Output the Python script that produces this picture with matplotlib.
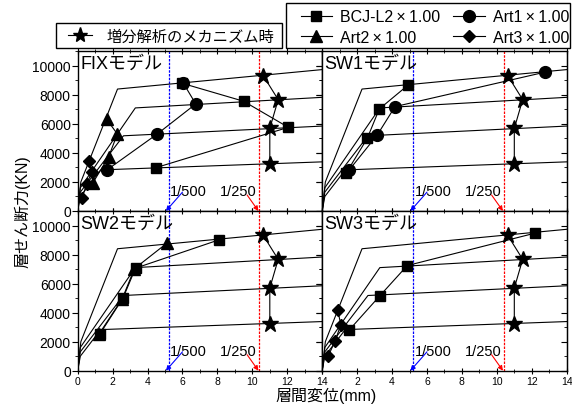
import matplotlib
matplotlib.use('Agg')
import matplotlib.pyplot as plt
from matplotlib.lines import Line2D
from matplotlib.patches import Rectangle
from matplotlib.ticker import MultipleLocator

plt.rcParams['font.family'] = ['Liberation Sans', 'Noto Sans CJK JP']

# skeleton curves, storeys 1F..4F: origin, crack, yield, end of plot
skel_x = [[0, 0.18, 2.28, 14], [0, 0.15, 3.30, 14], [0, 0.15, 2.62, 14], [0, 0.15, 1.32, 14]]
skel_y = [[0, 2000, 8400, 9740], [0, 1600, 7100, 7830], [0, 1300, 5180, 5850], [0, 1000, 2830, 3385]]

# mechanism points from pushover (same in every panel)
star_x = [10.62, 11.48, 11.00, 11.00]
star_y = [9330, 7670, 5694, 3227]

titles = ['FIXモデル', 'SW1モデル', 'SW2モデル', 'SW3モデル']

fix_bcj_x = [6.00, 9.50, 12.06, 4.49]
fix_bcj_y = [8790, 7560, 5763, 2990]
fix_art1_x = [6.04, 6.76, 4.55, 1.70]
fix_art1_y = [8825, 7374, 5300, 2850]
fix_art2_x = [1.65, 2.27, 1.77, 0.85]
fix_art2_y = [6337, 5300, 3730, 1900]
fix_art3_x = [0.66, 0.80, 0.51, 0.25]
fix_art3_y = [3430, 2654, 1845, 900]

sw1_bcj_x = [4.93, 3.27, 2.58, 1.36]
sw1_bcj_y = [8687, 7028, 5003, 2585]
sw1_art1_x = [12.76, 4.17, 3.15, 1.55]
sw1_art1_y = [9565, 7190, 5231, 2834]

sw2_bcj_x = [8.09, 3.31, 2.59, 1.27]
sw2_bcj_y = [9014, 7062, 4993, 2531]
sw2_art2_x = [5.11, 3.25, 2.55, 1.22]
sw2_art2_y = [8786, 7030, 4960, 2520]

sw3_bcj_x = [12.19, 4.87, 3.31, 1.55]
sw3_bcj_y = [9476, 7241, 5172, 2807]
sw3_art3_x = [0.88, 1.07, 0.73, 0.34]
sw3_art3_y = [4186, 3172, 2028, 993]

drift_500 = 5.2
drift_250 = 10.4

markers = {'BCJ': ('s', 7.5), 'Art1': ('o', 8.5), 'Art2': ('^', 8.5), 'Art3': ('D', 6.5)}

panel_series = [
    [('BCJ', fix_bcj_x, fix_bcj_y), ('Art1', fix_art1_x, fix_art1_y),
     ('Art2', fix_art2_x, fix_art2_y), ('Art3', fix_art3_x, fix_art3_y)],
    [('BCJ', sw1_bcj_x, sw1_bcj_y), ('Art1', sw1_art1_x, sw1_art1_y)],
    [('Art2', sw2_art2_x, sw2_art2_y), ('BCJ', sw2_bcj_x, sw2_bcj_y)],
    [('BCJ', sw3_bcj_x, sw3_bcj_y), ('Art3', sw3_art3_x, sw3_art3_y)],
]

fig = plt.figure(figsize=(5.72, 4.06), dpi=100)
W, H = 572.0, 406.0
L, AW = 77.7 / W, 244.5 / W
B, AH = 34.3 / H, 159.7 / H
pos = [[L, B + AH], [L + AW, B + AH], [L, B], [L + AW, B]]

for i, ax_pos in enumerate(pos):
    ax = fig.add_axes([ax_pos[0], ax_pos[1], AW, AH])
    ax.set_xlim(0, 14)
    ax.set_ylim(0, 11000)

    for sx, sy in zip(skel_x, skel_y):
        ax.plot(sx, sy, color='k', lw=0.8, zorder=2)

    ax.axvline(drift_500, color='blue', lw=0.9, ls=(0, (2, 1)), zorder=1.5)
    ax.axvline(drift_250, color='red', lw=0.9, ls=(0, (2, 1)), zorder=1.5)

    for name, xs, ys in panel_series[i]:
        m, ms = markers[name]
        ax.plot(xs, ys, color='k', lw=0.8, marker=m, ms=ms, zorder=3)

    ax.plot(star_x, star_y, color='k', lw=0.8, marker='*', ms=12, zorder=4)

    ax.text(0.01, 0.925, titles[i], transform=ax.transAxes, fontsize=13, va='center')

    ax.text(5.3, 1350, '1/500', fontsize=10.5, va='center')
    ax.text(8.15, 1350, '1/250', fontsize=10.5, va='center')
    ax.annotate('', xy=(5.05, 0), xytext=(6.0, 1300), annotation_clip=False,
                arrowprops=dict(arrowstyle='-|>', color='blue', lw=0.8,
                                mutation_scale=7, shrinkA=0, shrinkB=0))
    ax.annotate('', xy=(10.35, 0), xytext=(9.7, 1100), annotation_clip=False,
                arrowprops=dict(arrowstyle='-|>', color='red', lw=0.8,
                                mutation_scale=7, shrinkA=0, shrinkB=0))

    ax.xaxis.set_major_locator(MultipleLocator(2))
    ax.xaxis.set_minor_locator(MultipleLocator(1))
    ax.yaxis.set_major_locator(MultipleLocator(2000))
    ax.yaxis.set_minor_locator(MultipleLocator(1000))
    ax.tick_params(axis='x', which='both', direction='inout', top=True, labelsize=7.5, pad=2)
    ax.tick_params(axis='x', which='major', length=4)
    ax.tick_params(axis='x', which='minor', length=3)
    ax.tick_params(axis='y', which='both', direction='out', labelsize=10, pad=1)
    ax.tick_params(axis='y', which='major', length=4)
    ax.tick_params(axis='y', which='minor', length=2.5)
    sec = ax.secondary_yaxis('right')
    sec.yaxis.set_major_locator(MultipleLocator(2000))
    sec.yaxis.set_minor_locator(MultipleLocator(1000))
    sec.tick_params(which='both', direction='in', labelright=False)
    sec.tick_params(which='major', length=4)
    sec.tick_params(which='minor', length=2.5)
    for sp in ax.spines.values():
        sp.set_linewidth(1.0)

    if i < 2:
        ax.tick_params(axis='x', labelbottom=False)
    if i % 2 == 1:
        ax.tick_params(axis='y', labelleft=False)
    if i == 3:
        ax.set_xticks(range(0, 15, 2))
        ax.set_xticklabels([''] + [str(v) for v in range(2, 15, 2)])

fig.text(326 / W, 1 - 396 / H, '層間変位(mm)', ha='center', va='center', fontsize=11.5)
fig.text(22 / W, 1 - 212 / H, '層せん断力(KN)', ha='center', va='center',
         rotation=90, fontsize=11.5)


def px_box(x0, y0, x1, y1):
    # rectangle given in image pixels (y downward) -> figure fraction
    return Rectangle((x0 / W, 1 - y1 / H), (x1 - x0) / W, (y1 - y0) / H,
                     transform=fig.transFigure, fill=False, ec='k', lw=1.0)


fig.patches.append(px_box(285.9, 4, 570, 48.5))
fig.patches.append(px_box(55.7, 24, 282.2, 48.5))

handles = [Line2D([], [], color='k', lw=0.8, marker=markers[k][0], ms=markers[k][1])
           for k in ['BCJ', 'Art1', 'Art2', 'Art3']]
labels = ['BCJ-L2\u2009×\u20091.00', 'Art1\u2009×\u20091.00',
          'Art2\u2009×\u20091.00', 'Art3\u2009×\u20091.00']
# ncol=2 fills column-first
fig.legend([handles[0], handles[2], handles[1], handles[3]],
           [labels[0], labels[2], labels[1], labels[3]],
           ncol=2, loc='upper left', bbox_to_anchor=(300.5 / W, 1 - 10.5 / H),
           fontsize=11.5, frameon=False, borderpad=0, labelspacing=0.33,
           handlelength=2.0, handletextpad=0.5, columnspacing=0.8, borderaxespad=0)

star_h = Line2D([], [], color='k', lw=0.8, marker='*', ms=11)
fig.legend([star_h], ['増分解析のメカニズム時'], loc='upper left',
           bbox_to_anchor=(67.8 / W, 1 - 30.0 / H), fontsize=11,
           frameon=False, borderpad=0, handlelength=1.6, handletextpad=0.95,
           borderaxespad=0)

fig.savefig('out.png', dpi=100)
